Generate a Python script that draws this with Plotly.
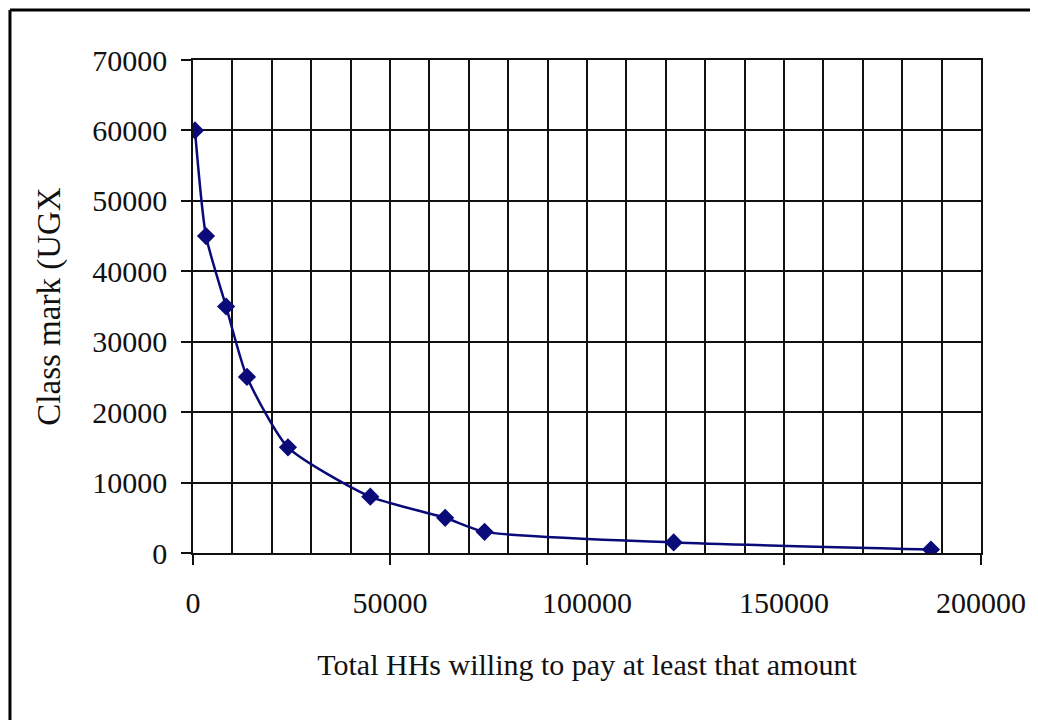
import plotly.graph_objects as go

hh_total = [500, 3300, 8400, 13700, 24100, 45000, 64000, 74000, 122000, 187300]
class_mark = [60000, 45000, 35000, 25000, 15000, 8000, 5000, 3000, 1500, 500]

x_title = "Total HHs willing to pay at least that amount"
y_title = "Class mark (UGX"

font_family = "Liberation Serif, Times New Roman, serif"

W, H = 1030, 712
L, R, T, B = 185, 55, 52, 167
PW, PH = W - L - R, H - T - B

fig = go.Figure()
fig.add_trace(go.Scatter(
    x=hh_total, y=class_mark, mode="lines+markers",
    line=dict(color="#0a0a78", width=2.5, shape="spline", smoothing=0.6),
    marker=dict(symbol="diamond", size=14, color="#0a0a78"),
    showlegend=False,
))

fig.update_layout(
    width=W, height=H,
    margin=dict(l=L, r=R, t=T, b=B),
    paper_bgcolor="white", plot_bgcolor="white",
    font=dict(family=font_family, color="#111111", size=30),
    xaxis=dict(
        range=[0, 200000], dtick=50000, tick0=0,
        showgrid=True, gridcolor="#111111", gridwidth=1.5,
        minor=dict(dtick=10000, showgrid=True, gridcolor="#111111", gridwidth=1.5),
        ticks="outside", ticklen=10, tickcolor="#111111", tickwidth=1.5,
        showline=True, linecolor="#111111", linewidth=1.5, mirror=True,
        zeroline=False, ticklabelstandoff=12,
        title=dict(text=x_title, font=dict(size=30), standoff=36),
        tickformat="d",
    ),
    yaxis=dict(
        range=[0, 70000], dtick=10000,
        showgrid=True, gridcolor="#111111", gridwidth=1.5,
        ticks="outside", ticklen=10, tickcolor="#111111", tickwidth=1.5,
        showline=True, linecolor="#111111", linewidth=1.5, mirror=True,
        zeroline=False, ticklabelstandoff=8,
        title=dict(text=y_title, font=dict(size=33), standoff=22),
        tickformat="d",
    ),
    shapes=[
        dict(type="line", xref="paper", yref="paper", x0=-(L - 1.5) / PW, x1=(W - L) / PW,
             y0=(PH + T - 2) / PH, y1=(PH + T - 2) / PH, line=dict(color="black", width=3)),
        dict(type="line", xref="paper", yref="paper", x0=-(L - 1.5) / PW, x1=-(L - 1.5) / PW,
             y0=(PH + T - 2) / PH, y1=-B / PH, line=dict(color="black", width=3)),
    ],
)

fig.write_html("out.html")
